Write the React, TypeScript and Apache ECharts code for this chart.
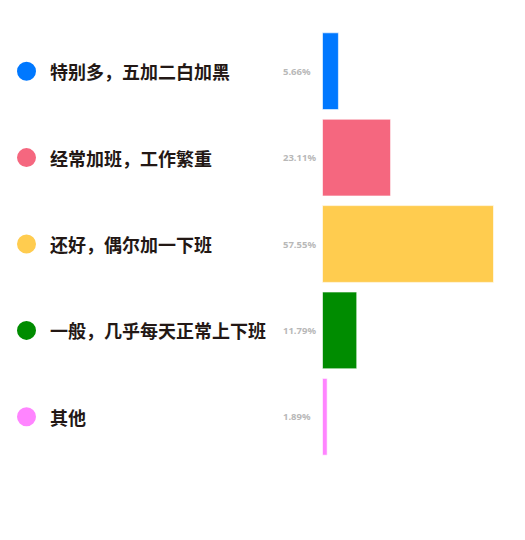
import React, { useEffect, useRef } from 'react';
import * as echarts from 'echarts';

const categories = ['特别多，五加二白加黑', '经常加班，工作繁重', '还好，偶尔加一下班', '一般，几乎每天正常上下班', '其他'];
const percents = [5.66, 23.11, 57.55, 11.79, 1.89];
const colors = ['#0078FF', '#F5677F', '#FFCC4F', '#008C00', '#FF85FF'];

const App: React.FC = () => {
  const chartRef = useRef<HTMLDivElement>(null);

  useEffect(() => {
    if (!chartRef.current) return;
    const myChart = echarts.init(chartRef.current, undefined, { renderer: 'svg' });

    const rich: Record<string, any> = {
      t: {
        fontSize: 18,
        fontWeight: 'bold',
        color: '#231815',
        fontFamily: 'Noto Sans CJK SC',
        padding: [0, 0, 0, 14],
      },
    };
    colors.forEach((c, i) => {
      rich['d' + i] = { width: 19, height: 19, borderRadius: 9.5, backgroundColor: c };
    });

    const option = {
      animation: false,
      grid: { left: 322, right: 31, top: 28, bottom: 80 },
      xAxis: { type: 'value', min: 0, max: 'dataMax', show: false },
      yAxis: {
        type: 'category',
        inverse: true,
        data: categories,
        axisLine: { show: false },
        axisTick: { show: false },
        splitLine: { show: false },
        axisLabel: {
          align: 'left',
          margin: 305,
          formatter: (v: string, i: number) => `{d${i}|}{t|${v}}`,
          rich,
        },
      },
      series: [
        {
          type: 'bar',
          barCategoryGap: '10%',
          data: percents.map((v, i) => ({ value: v, itemStyle: { color: colors[i] } })),
          itemStyle: { borderColor: 'rgba(255,255,255,0.6)', borderWidth: 1 },
          label: {
            show: true,
            position: 'insideLeft',
            distance: 0,
            offset: [-39, 0],
            formatter: (p: any) => p.value.toFixed(2) + '%',
            fontSize: 9.5,
            fontWeight: 'bold',
            color: '#b8b8b8',
            fontFamily: 'Noto Sans',
          },
        },
      ],
    };

    myChart.setOption(option);
    return () => {
      myChart.dispose();
    };
  }, []);

  return <div ref={chartRef} style={{ position: 'absolute', left: 0, top: 0, width: 525, height: 540 }} />;
};

export default App;
